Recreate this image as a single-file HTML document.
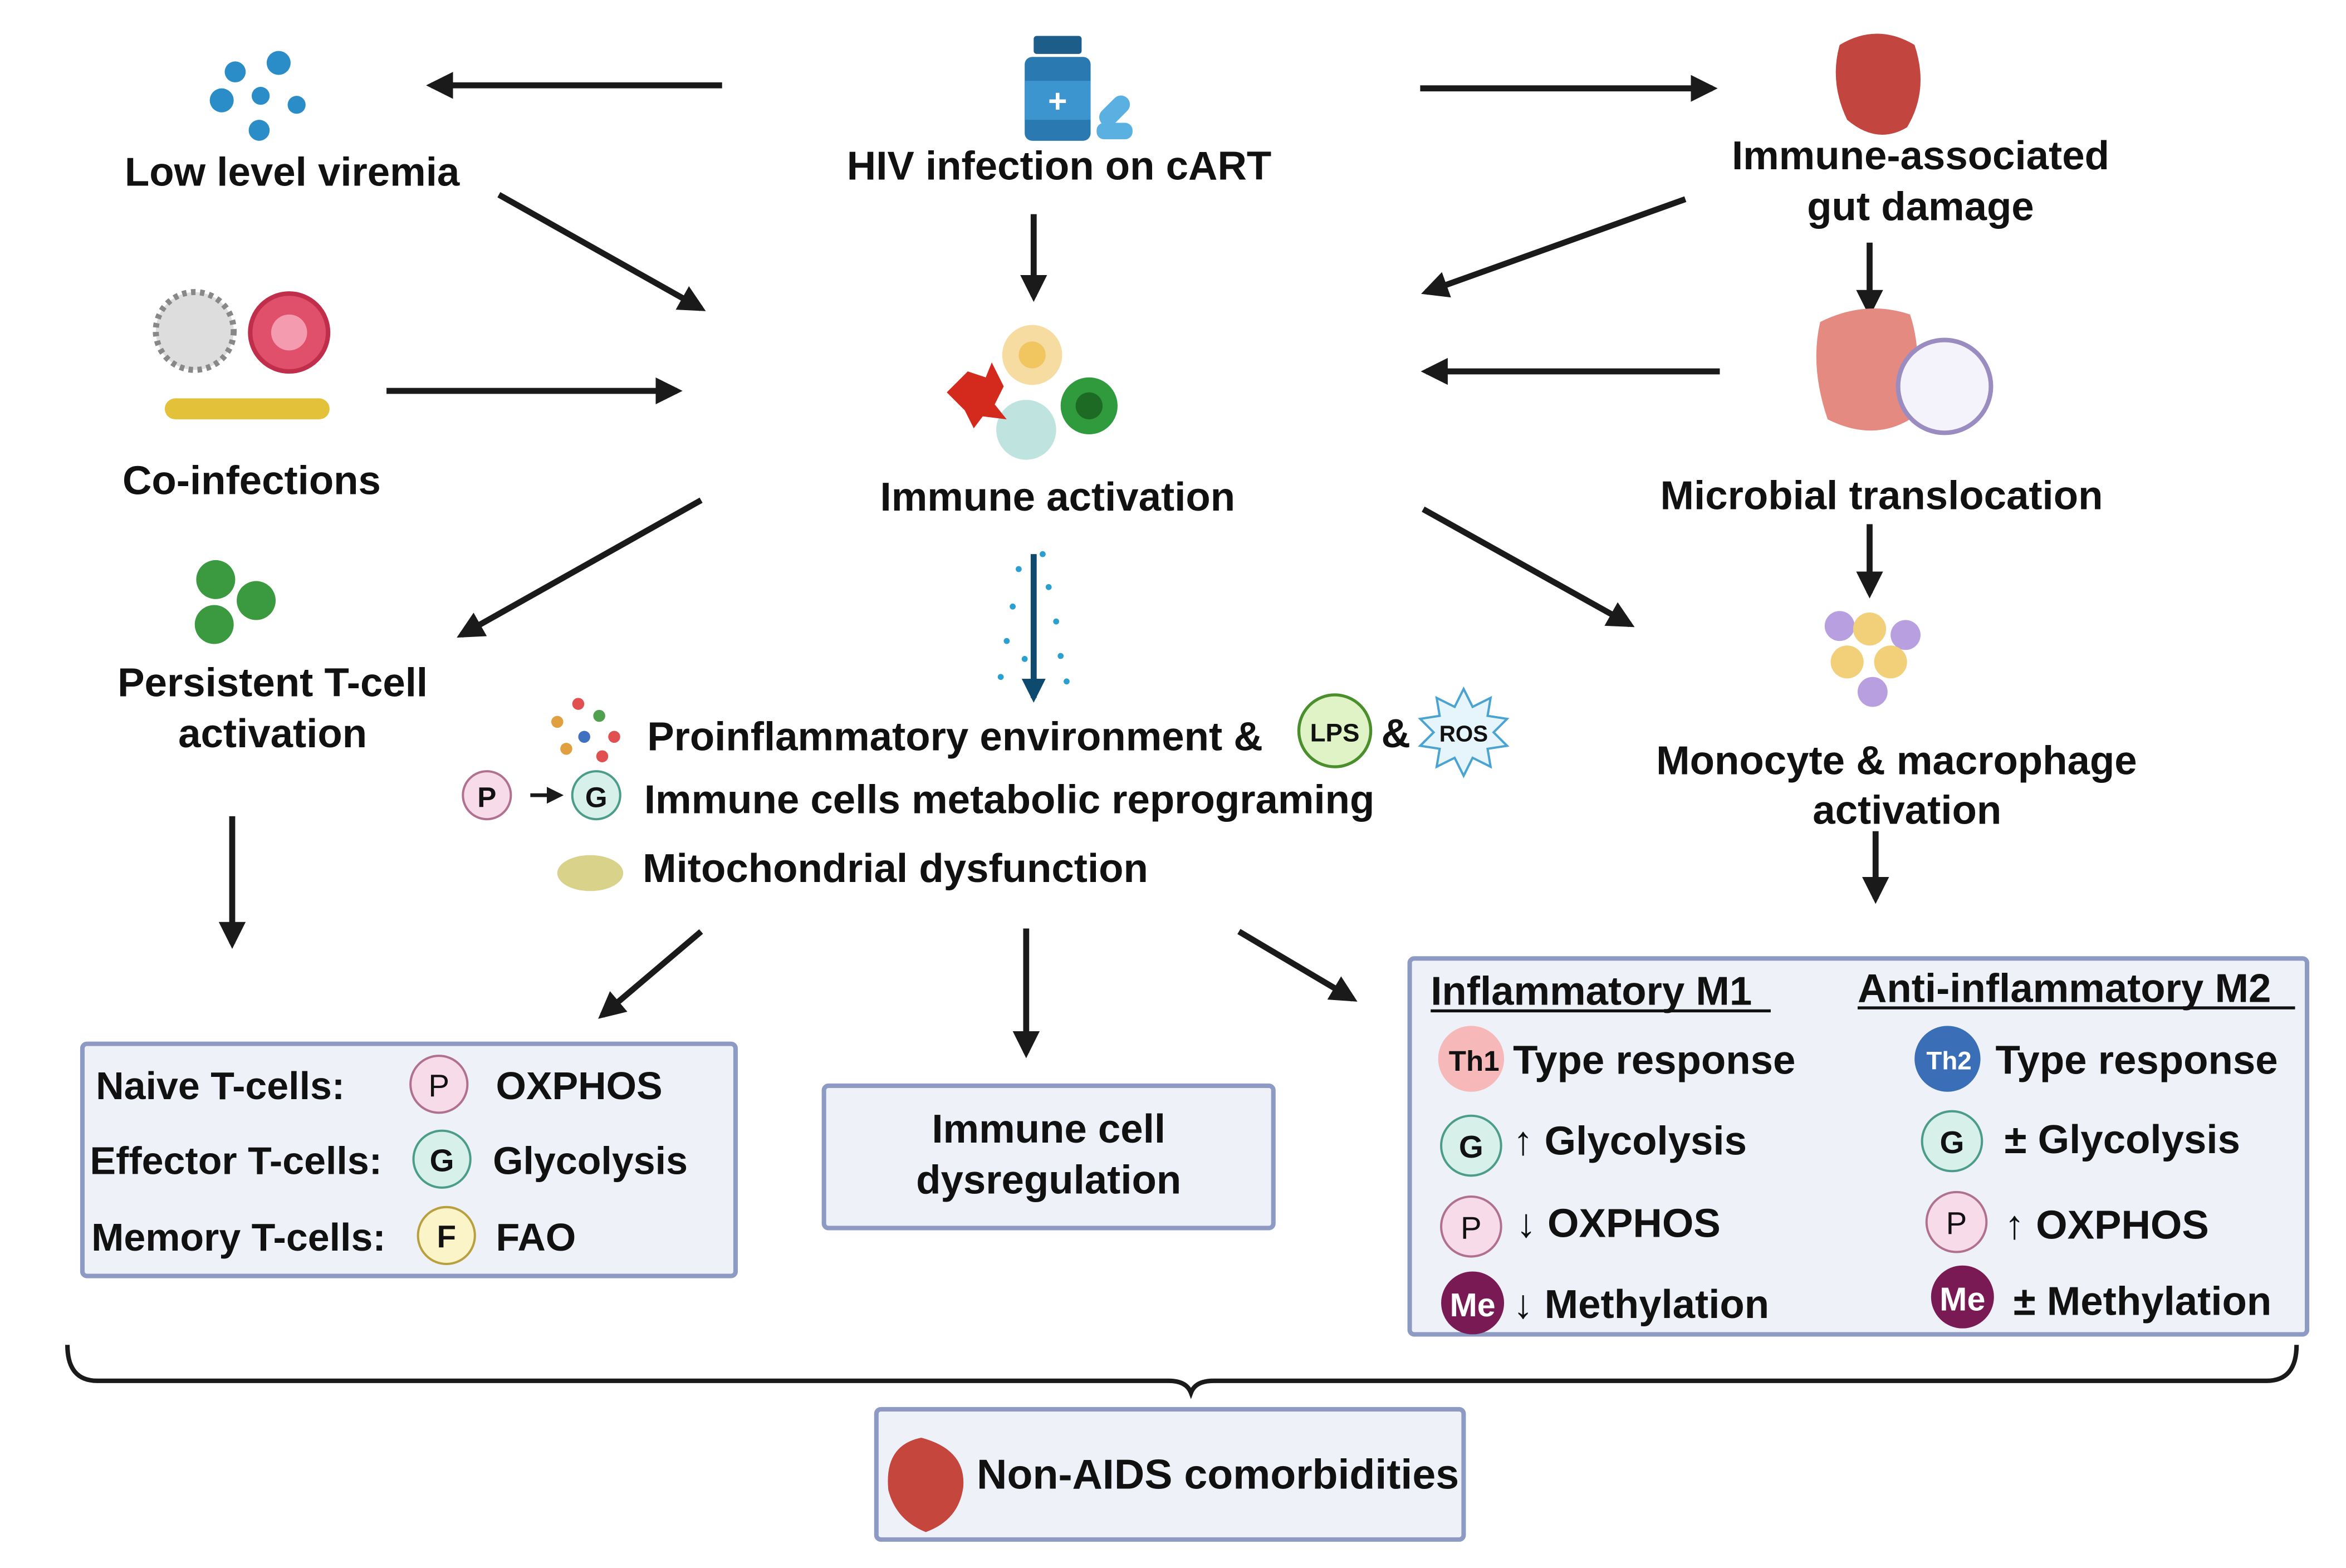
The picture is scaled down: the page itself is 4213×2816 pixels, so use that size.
<!DOCTYPE html>
<html><head><meta charset="utf-8"><style>
html,body{margin:0;padding:0;background:#fff}
svg{display:block}
text{font-family:"Liberation Sans",Arial,sans-serif;font-weight:bold;fill:#111}
</style></head><body>
<svg width="4213" height="2816" viewBox="0 0 1566 1047" preserveAspectRatio="none" xmlns="http://www.w3.org/2000/svg">
<defs>
<marker id="ah" viewBox="0 0 10 10" refX="8" refY="5" markerWidth="4.5" markerHeight="4.5" orient="auto"><path d="M0,0 L10,5 L0,10 z" fill="#1a1a1a"/></marker>
<marker id="ah2" viewBox="0 0 10 10" refX="8" refY="5" markerWidth="4" markerHeight="4" orient="auto"><path d="M0,0 L10,5 L0,10 z" fill="#0d4a6e"/></marker>
</defs>
<g stroke="#1a1a1a" stroke-width="4" fill="none" marker-end="url(#ah)">
<line x1="482" y1="57" x2="288" y2="57"/>
<line x1="948" y1="59" x2="1143" y2="59"/>
<line x1="690" y1="143" x2="690" y2="198"/>
<line x1="333" y1="130" x2="468" y2="206"/>
<line x1="258" y1="261" x2="452" y2="261"/>
<line x1="1125" y1="133" x2="952" y2="195"/>
<line x1="1148" y1="248" x2="952" y2="248"/>
<line x1="1248" y1="162" x2="1248" y2="208"/>
<line x1="1248" y1="350" x2="1248" y2="396"/>
<line x1="468" y1="334" x2="308" y2="424"/>
<line x1="950" y1="340" x2="1088" y2="417"/>
<line x1="155" y1="545" x2="155" y2="630"/>
<line x1="1252" y1="555" x2="1252" y2="600"/>
<line x1="468" y1="622" x2="402" y2="678"/>
<line x1="685" y1="620" x2="685" y2="703"/>
<line x1="827" y1="622" x2="903" y2="667"/>
<line x1="354" y1="531" x2="374" y2="531" stroke-width="2.5"/>
</g>
<line x1="690" y1="370" x2="690" y2="466" stroke="#0d4a6e" stroke-width="4" marker-end="url(#ah2)"/>
<g fill="#2a9fd0">
<circle cx="680" cy="380" r="2"/><circle cx="700" cy="392" r="2"/><circle cx="676" cy="405" r="2"/><circle cx="705" cy="415" r="2"/><circle cx="672" cy="428" r="2"/><circle cx="708" cy="438" r="2"/><circle cx="668" cy="452" r="2"/><circle cx="712" cy="455" r="2"/><circle cx="696" cy="370" r="2"/><circle cx="684" cy="440" r="2"/></g>

<g fill="#2a8dc8">
<circle cx="157" cy="48" r="7"/><circle cx="186" cy="42" r="8"/><circle cx="148" cy="67" r="8"/><circle cx="174" cy="64" r="6"/><circle cx="198" cy="70" r="6"/><circle cx="173" cy="87" r="7"/></g>
<rect x="690" y="24" width="32" height="12" rx="2" fill="#1d5d8a"/>
<rect x="684" y="38" width="44" height="56" rx="5" fill="#2a79b0"/>
<rect x="684" y="54" width="44" height="26" fill="#3c95cf"/>
<text x="706" y="75" font-size="22" text-anchor="middle" style="fill:#fff">+</text>
<rect x="732" y="68" width="24" height="12" rx="6" fill="#5ab0e0" transform="rotate(-45 744 74)"/>
<rect x="732" y="82" width="24" height="11" rx="5" fill="#5ab0e0"/>
<path d="M1228,30 q25,-15 50,0 q10,30 -5,55 q-20,12 -40,-5 q-12,-25 -5,-50z" fill="#c2453f"/>
<circle cx="130" cy="221" r="26" fill="#ddd" stroke="#888" stroke-width="4" stroke-dasharray="3 3"/>
<circle cx="193" cy="222" r="26" fill="#e0506a" stroke="#c12e4b" stroke-width="3"/>
<circle cx="193" cy="222" r="12" fill="#f59bb0"/>
<rect x="110" y="266" width="110" height="14" rx="7" fill="#e3c23a"/>
<circle cx="689" cy="237" r="20" fill="#f6dca0"/><circle cx="689" cy="237" r="9" fill="#f1c560"/>
<circle cx="685" cy="287" r="20" fill="#bfe4e0"/>
<circle cx="727" cy="271" r="19" fill="#2f9b3c"/><circle cx="727" cy="271" r="9" fill="#1d6a25"/>
<path d="M632,262 l14,-14 l12,4 l4,-10 l8,16 l-6,12 l8,10 l-16,-2 l-6,8 l-6,-12z" fill="#d42a1e"/>
<path d="M1215,215 q30,-15 60,-5 q10,30 0,70 q-25,15 -55,0 q-12,-35 -5,-65z" fill="#e58a80"/>
<circle cx="1298" cy="258" r="31" fill="#f4f2fa" stroke="#9a8cc0" stroke-width="3"/>
<g fill="#b8a0e0"><circle cx="1228" cy="418" r="10"/><circle cx="1272" cy="424" r="10"/><circle cx="1250" cy="462" r="10"/></g>
<g fill="#f2d07a"><circle cx="1248" cy="420" r="11"/><circle cx="1233" cy="442" r="11"/><circle cx="1262" cy="442" r="11"/></g>
<circle cx="144" cy="387" r="13" fill="#3b9a3f"/><circle cx="171" cy="401" r="13" fill="#3b9a3f"/><circle cx="143" cy="417" r="13" fill="#3b9a3f"/>
<g><circle cx="372" cy="482" r="4" fill="#e0a040"/><circle cx="386" cy="470" r="4" fill="#e05050"/><circle cx="400" cy="478" r="4" fill="#50a050"/><circle cx="410" cy="492" r="4" fill="#e05050"/><circle cx="390" cy="492" r="4" fill="#4070c0"/><circle cx="378" cy="500" r="4" fill="#e0a040"/><circle cx="402" cy="505" r="4" fill="#e05050"/></g>
<ellipse cx="394" cy="583" rx="22" ry="12" fill="#d9d28a"/>

<g font-size="27">
<text x="195" y="124" text-anchor="middle">Low level viremia</text>
<text x="707" y="120" text-anchor="middle">HIV infection on cART</text>
<text x="1282" y="113" text-anchor="middle">Immune-associated</text>
<text x="1282" y="147" text-anchor="middle">gut damage</text>
<text x="168" y="330" text-anchor="middle">Co-infections</text>
<text x="706" y="341" text-anchor="middle">Immune activation</text>
<text x="1256" y="340" text-anchor="middle">Microbial translocation</text>
<text x="182" y="465" text-anchor="middle">Persistent T-cell</text>
<text x="182" y="499" text-anchor="middle">activation</text>
<text x="432" y="501">Proinflammatory environment &amp;</text>
<text x="922" y="499">&amp;</text>
<text x="430" y="543">Immune cells metabolic reprograming</text>
<text x="429" y="589">Mitochondrial dysfunction</text>
<text x="1266" y="517" text-anchor="middle">Monocyte &amp; macrophage</text>
<text x="1273" y="550" text-anchor="middle">activation</text>
</g>
<circle cx="891" cy="488" r="24" fill="#dff3c6" stroke="#4b8f2d" stroke-width="2"/>
<text x="891" y="495" font-size="17" text-anchor="middle">LPS</text>
<polygon points="977,460 983,472 995,466 993,478 1006,480 997,489 1006,498 993,500 995,512 983,506 977,518 971,506 959,512 961,500 948,498 957,489 948,480 961,478 959,466 971,472" fill="#e6f4fb" stroke="#4aa3d0" stroke-width="1.5"/>
<text x="977" y="495" font-size="15" text-anchor="middle">ROS</text>
<circle cx="325" cy="531" r="16" fill="#f8dbe8" stroke="#b07090" stroke-width="1.5"/><text x="325" y="539" font-size="19" text-anchor="middle">P</text>
<circle cx="398" cy="531" r="16" fill="#d7f0ea" stroke="#4c9c8a" stroke-width="1.5"/><text x="398" y="539" font-size="19" text-anchor="middle">G</text>

<rect x="55" y="697" width="436" height="155" rx="3" fill="#eef2f8" stroke="#8d9bc4" stroke-width="3"/>
<g font-size="26">
<text x="64" y="734">Naive T-cells:</text>
<text x="60" y="784">Effector T-cells:</text>
<text x="61" y="835">Memory T-cells:</text>
<text x="331" y="734">OXPHOS</text>
<text x="329" y="784">Glycolysis</text>
<text x="331" y="835">FAO</text>
</g>
<circle cx="293" cy="724" r="19" fill="#f8dbe8" stroke="#b07090" stroke-width="1.5"/><text x="293" y="732" font-size="21" text-anchor="middle" style="font-weight:normal">P</text>
<circle cx="295" cy="774" r="19" fill="#d7f0ea" stroke="#4c9c8a" stroke-width="1.5"/><text x="295" y="782" font-size="21" text-anchor="middle">G</text>
<circle cx="298" cy="825" r="19" fill="#fbf4c8" stroke="#b8a040" stroke-width="1.5"/><text x="298" y="833" font-size="21" text-anchor="middle">F</text>

<rect x="550" y="725" width="300" height="95" rx="3" fill="#eef2f8" stroke="#8d9bc4" stroke-width="3"/>
<text x="700" y="763" font-size="27" text-anchor="middle">Immune cell</text>
<text x="700" y="797" font-size="27" text-anchor="middle">dysregulation</text>

<rect x="941" y="640" width="599" height="251" rx="3" fill="#eef2f8" stroke="#8d9bc4" stroke-width="3"/>
<g font-size="27">
<text x="955" y="671">Inflammatory M1</text>
<text x="1240" y="669">Anti-inflammatory M2</text>
<text x="1010" y="717">Type response</text>
<text x="1332" y="717">Type response</text>
<text x="1010" y="771">↑ Glycolysis</text>
<text x="1338" y="770">± Glycolysis</text>
<text x="1012" y="826">↓ OXPHOS</text>
<text x="1338" y="827">↑ OXPHOS</text>
<text x="1010" y="880">↓ Methylation</text>
<text x="1344" y="878">± Methylation</text>
</g>
<line x1="955" y1="675" x2="1182" y2="675" stroke="#111" stroke-width="2"/>
<line x1="1240" y1="673" x2="1532" y2="673" stroke="#111" stroke-width="2"/>
<circle cx="982" cy="707" r="22" fill="#f6b8b8"/><text x="984" y="715" font-size="19" text-anchor="middle">Th1</text>
<circle cx="1300" cy="707" r="22" fill="#3a6fb8"/><text x="1301" y="714" font-size="17" text-anchor="middle" style="fill:#fff">Th2</text>
<circle cx="982" cy="765" r="20" fill="#d7f0ea" stroke="#4c9c8a" stroke-width="1.5"/><text x="982" y="773" font-size="21" text-anchor="middle">G</text>
<circle cx="1303" cy="762" r="20" fill="#d7f0ea" stroke="#4c9c8a" stroke-width="1.5"/><text x="1303" y="770" font-size="21" text-anchor="middle">G</text>
<circle cx="982" cy="819" r="20" fill="#f8dbe8" stroke="#b07090" stroke-width="1.5"/><text x="982" y="827" font-size="21" text-anchor="middle" style="font-weight:normal">P</text>
<circle cx="1306" cy="816" r="20" fill="#f8dbe8" stroke="#b07090" stroke-width="1.5"/><text x="1306" y="824" font-size="21" text-anchor="middle" style="font-weight:normal">P</text>
<circle cx="983" cy="870" r="21" fill="#7a1a55"/><text x="983" y="879" font-size="22" text-anchor="middle" style="fill:#fff">Me</text>
<circle cx="1310" cy="866" r="21" fill="#7a1a55"/><text x="1310" y="875" font-size="22" text-anchor="middle" style="fill:#fff">Me</text>

<path d="M45,898 Q45,922 65,922 L780,922 Q792,922 795,930 Q798,922 810,922 L1513,922 Q1533,922 1533,898" fill="none" stroke="#1a1a1a" stroke-width="3"/>

<rect x="585" y="941" width="392" height="87" rx="3" fill="#eef2f8" stroke="#8d9bc4" stroke-width="3"/>
<path d="M615,960 q-25,5 -22,35 q5,20 25,28 q22,-8 25,-30 q2,-25 -28,-33z" fill="#c4463c"/>
<text x="652" y="994" font-size="28">Non-AIDS comorbidities</text>
</svg>
</body></html>
